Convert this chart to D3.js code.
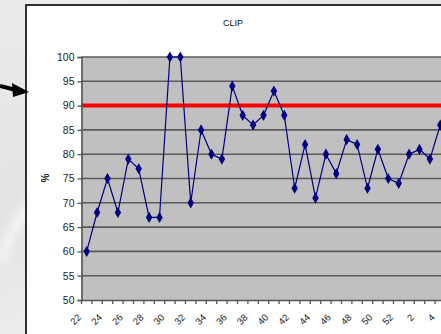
<!DOCTYPE html>
<html><head><meta charset="utf-8">
<script src="https://cdn.jsdelivr.net/npm/d3@7"></script>
<style>body{margin:0;overflow:hidden;}svg{display:block;font-family:Arial,"Liberation Sans",sans-serif;}</style>
</head><body>
<script>
const categories = ["22","23","24","25","26","27","28","29","30","31","32","33","34","35","36","37","38","39","40","41","42","43","44","45","46","47","48","49","50","51","52","1","2","3","4"];
const clipValues = [60,68,75,68,79,77,67,67,100,100,70,85,80,79,94,88,86,88,93,88,73,82,71,80,76,83,82,73,81,75,74,80,81,79,86];
const xTickLabels = ["22","24","26","28","30","32","34","36","38","40","42","44","46","48","50","52","2","4"];
const yTicks = [50,55,60,65,70,75,80,85,90,95,100];
const targetValue = 90;
const title = "CLIP";
const yTitle = "%";

const W = 441, H = 334;
const svg = d3.select("body").append("svg").attr("width", W).attr("height", H);
const defs = svg.append("defs");
const g1 = defs.append("linearGradient").attr("id","bg").attr("x1","0").attr("y1","0").attr("x2","0.3").attr("y2","1");
g1.append("stop").attr("offset","0").attr("stop-color","#ebebeb");
g1.append("stop").attr("offset","0.6").attr("stop-color","#e3e3e3");
g1.append("stop").attr("offset","1").attr("stop-color","#efefef");
svg.append("rect").attr("width",W).attr("height",H).attr("fill","url(#bg)");
defs.append("filter").attr("id","blur").append("feGaussianBlur").attr("stdDeviation",4);
svg.append("path").attr("d","M0,250 C10,225 20,205 30,195 L30,215 C20,225 10,245 0,270 Z")
  .attr("fill","#fafafa").attr("opacity",0.8).attr("filter","url(#blur)");

// white chart box
svg.append("rect").attr("x",26).attr("y",5).attr("width",W).attr("height",H)
  .attr("fill","#fff").attr("stroke","#000").attr("stroke-width",1.6);

// arrow
svg.append("line").attr("x1",0).attr("y1",86).attr("x2",16).attr("y2",90)
  .attr("stroke","#000").attr("stroke-width",4);
svg.append("path").attr("d","M12,83 L29,92 L13,97 Z").attr("fill","#000");

const x = d3.scaleBand().domain(categories).range([81.5, 81.5 + 10.4*categories.length]);
const y = d3.scaleLinear().domain([50,100]).range([300,57]);

// plot area
svg.append("rect").attr("x",x.range()[0]).attr("y",y(100)).attr("width",x.range()[1]-x.range()[0]).attr("height",y(50)-y(100))
  .attr("fill","#c0c0c0");

// gridlines
svg.append("g").selectAll("line").data(yTicks.filter(d=>d>50)).join("line")
  .attr("x1",x.range()[0]).attr("x2",x.range()[1]).attr("y1",d=>y(d)).attr("y2",d=>y(d))
  .attr("stroke","#5a5a5a").attr("stroke-width",1.6);

// target line
svg.append("line").attr("x1",x.range()[0]).attr("x2",x.range()[1]).attr("y1",y(targetValue)).attr("y2",y(targetValue))
  .attr("stroke","#ff0000").attr("stroke-width",4);

// y axis
const yAxis = svg.append("g").attr("transform",`translate(${x.range()[0]},0)`)
  .call(d3.axisLeft(y).tickValues(yTicks).tickSize(4).tickPadding(3).tickFormat(d3.format("d")));
yAxis.select(".domain").attr("stroke","#555").attr("stroke-width",1.6);
yAxis.selectAll(".tick line").attr("stroke","#555").attr("stroke-width",1.3);
yAxis.selectAll("text").attr("font-size",10.5).attr("fill","#222").attr("font-family","Arial, Liberation Sans, sans-serif");

// x axis
const xAxis = svg.append("g").attr("transform",`translate(0,${y(50)})`)
  .call(d3.axisBottom(x).tickSize(0).tickFormat(d => xTickLabels.includes(d) && categories.indexOf(d)%2===0 ? d : ""));
xAxis.select(".domain").attr("stroke","#555").attr("stroke-width",1.6);
xAxis.selectAll("text").attr("font-size",9.5).attr("fill","#222").attr("font-family","Arial, Liberation Sans, sans-serif")
  .attr("text-anchor","end").attr("dx",0).attr("dy",0)
  .attr("transform","translate(-7,16) rotate(-45)");
// category boundary ticks
svg.append("g").selectAll("line").data(categories).join("line")
  .attr("x1",d=>x(d)).attr("x2",d=>x(d)).attr("y1",y(50)).attr("y2",y(50)+4)
  .attr("stroke","#555").attr("stroke-width",1.3);

// series line
const line = d3.line().x((d,i)=>x(categories[i])+x.bandwidth()/2).y(d=>y(d));
svg.append("path").datum(clipValues).attr("d",line).attr("fill","none").attr("stroke","#000080").attr("stroke-width",1.2);
svg.append("g").selectAll("path").data(clipValues).join("path")
  .attr("d",d3.symbol(d3.symbolDiamond,36))
  .attr("transform",(d,i)=>`translate(${x(categories[i])+x.bandwidth()/2},${y(d)})`)
  .attr("fill","#000080");

// titles
svg.append("text").attr("x",233).attr("y",26).attr("text-anchor","middle").attr("font-size",9).attr("fill","#111").text(title);
svg.append("text").attr("transform","translate(49,178) rotate(-90)").attr("text-anchor","middle")
  .attr("font-size",10).attr("font-weight","bold").attr("fill","#222").text(yTitle);
</script>
</body></html>
